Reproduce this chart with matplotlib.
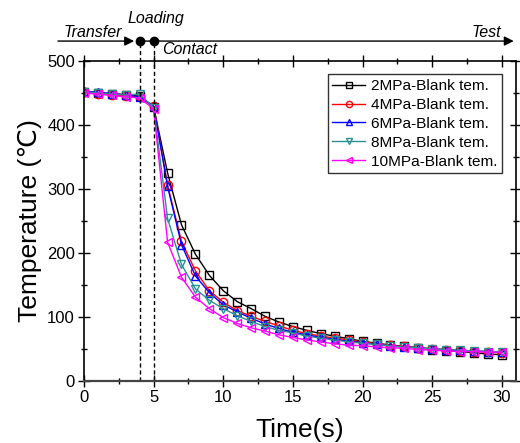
import matplotlib
matplotlib.use('Agg')
import matplotlib.pyplot as plt
from matplotlib.ticker import MultipleLocator
import matplotlib.transforms as mtransforms

plt.rcParams['font.family'] = ['Liberation Sans', 'DejaVu Sans']

# time points (s)
time = list(range(0, 31))

# blank temperature for each pressure
temp_2mpa = [452, 450, 449, 447, 445, 428, 325, 244, 198, 165, 141, 124, 113, 101, 92, 85,
             79, 74, 70, 66, 62, 59, 56, 54, 52, 49, 47, 46, 44, 42, 41]
temp_4mpa = [451, 449, 447, 445, 443, 430, 306, 218, 172, 141, 123, 110, 101, 93, 86, 79,
             74, 70, 67, 64, 61, 58, 56, 54, 52, 50, 49, 47, 46, 45, 44]
temp_6mpa = [453, 451, 449, 447, 444, 429, 304, 213, 164, 138, 119, 108, 98, 89, 82, 76,
             72, 68, 65, 62, 60, 57, 55, 53, 52, 50, 49, 48, 47, 46, 45]
temp_8mpa = [452, 450, 448, 447, 448, 427, 254, 182, 144, 126, 113, 102, 93, 85, 79, 75,
             70, 67, 64, 61, 59, 57, 55, 53, 52, 50, 49, 48, 47, 46, 46]
temp_10mpa = [450, 448, 446, 444, 442, 425, 217, 162, 131, 113, 99, 90, 83, 78, 72, 68,
              64, 61, 58, 56, 55, 53, 52, 51, 49, 48, 47, 46, 46, 45, 45]

labels = ['2MPa-Blank tem.', '4MPa-Blank tem.', '6MPa-Blank tem.',
          '8MPa-Blank tem.', '10MPa-Blank tem.']
series = [temp_2mpa, temp_4mpa, temp_6mpa, temp_8mpa, temp_10mpa]
colors = ['black', 'red', 'blue', '#2a9090', 'magenta']
markers = ['s', 'o', '^', 'v', '<']

# stage boundaries
t_loading = 4
t_contact = 5

fig = plt.figure(figsize=(5.2, 4.43), dpi=100)
ax = fig.add_axes([0.1615, 0.14, 0.8305, 0.7225])

for y, lab, c, m in zip(series, labels, colors, markers):
    ax.plot(time, y, color=c, marker=m, markersize=6, markerfacecolor='none',
            markeredgecolor=c, markeredgewidth=1.0, linewidth=1.0, label=lab)

ax.set_xlim(0, 31)
ax.set_ylim(0, 500)
ax.xaxis.set_major_locator(MultipleLocator(5))
ax.xaxis.set_minor_locator(MultipleLocator(2.5))
ax.yaxis.set_major_locator(MultipleLocator(100))
ax.yaxis.set_minor_locator(MultipleLocator(50))
ax.tick_params(which='both', direction='inout', top=True, right=True, labelsize=12)
ax.tick_params(which='major', length=9, width=1, pad=2)
ax.tick_params(which='minor', length=5, width=1)
for sp in ax.spines.values():
    sp.set_linewidth(1.2)
ax.spines['bottom'].set_linewidth(1.6)
ax.spines['bottom'].set_color('#444444')

ax.set_xlabel('Time(s)', fontsize=19, labelpad=9)
ax.set_ylabel('Temperature (\u2103)', fontsize=19, labelpad=4)

leg = ax.legend(loc='upper right', bbox_to_anchor=(0.968, 0.958), borderaxespad=0,
                fontsize=11.1, frameon=True, fancybox=False, edgecolor='black',
                handlelength=2.1, numpoints=1, markerscale=0.75,
                borderpad=0.3, labelspacing=0.32, handletextpad=0.4)
leg.get_frame().set_linewidth(1.0)

# timeline above the axes
trans = mtransforms.blended_transform_factory(ax.transData, ax.transAxes)
y_line = 1.062
ax.annotate('', xy=(t_loading, y_line), xytext=(-1.87, y_line), xycoords=trans,
            textcoords=trans, annotation_clip=False,
            arrowprops=dict(arrowstyle='-|>', color='black', lw=1.0, mutation_scale=14,
                            shrinkA=0, shrinkB=4))
ax.annotate('', xy=(30.85, y_line), xytext=(t_loading, y_line), xycoords=trans,
            textcoords=trans, annotation_clip=False,
            arrowprops=dict(arrowstyle='-|>', color='black', lw=1.0, mutation_scale=14,
                            shrinkA=0, shrinkB=0))
ax.plot([t_loading, t_contact], [y_line, y_line], 'o', color='black', markersize=6,
        transform=trans, clip_on=False)
for tx in (t_loading, t_contact):
    ax.plot([tx, tx], [0, y_line], linestyle='--', color='black', linewidth=1.0,
            dashes=(3, 2), transform=trans, clip_on=False)

ax.text(-1.5, 1.075, 'Transfer', style='italic', fontsize=11.5, transform=trans)
ax.text(3.1, 1.12, 'Loading', style='italic', fontsize=11.5, transform=trans)
ax.text(5.6, 1.022, 'Contact', style='italic', fontsize=11.5, transform=trans)
ax.text(27.8, 1.075, 'Test', style='italic', fontsize=11.5, transform=trans)

plt.savefig('out.png', dpi=100)
